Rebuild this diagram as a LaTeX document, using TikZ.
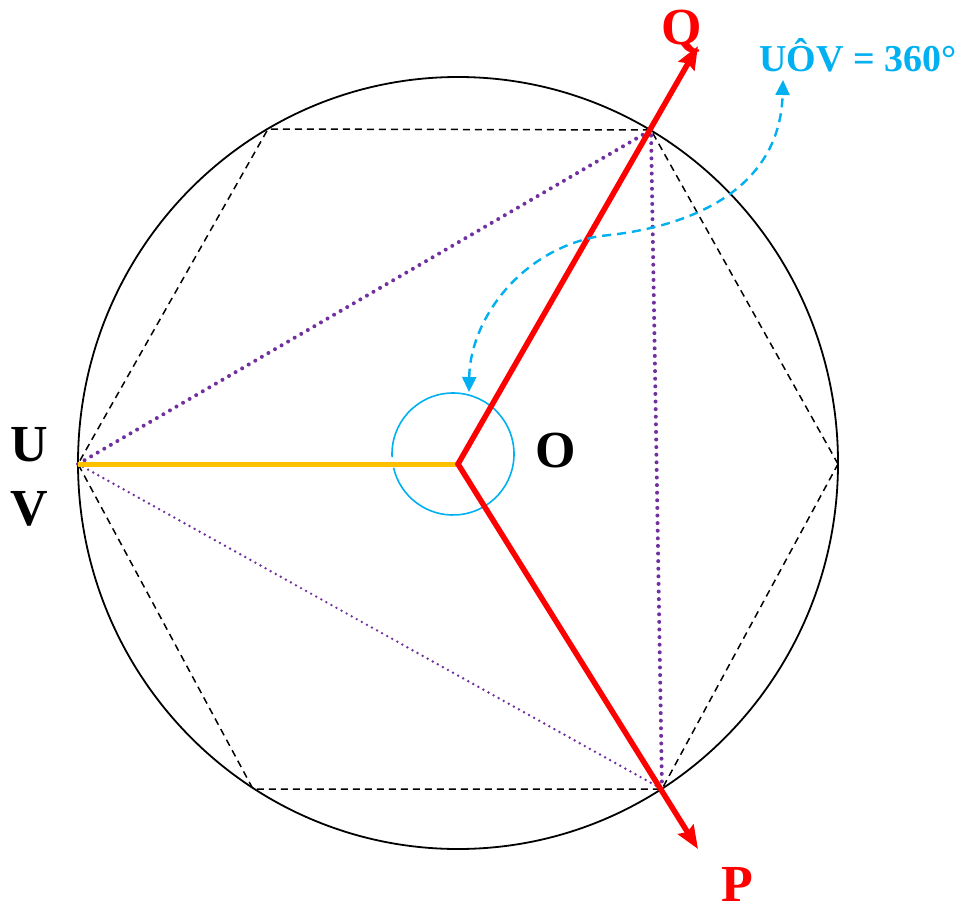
\documentclass[tikz,border=0pt]{standalone}
\usepackage{fontspec}
\setmainfont{Liberation Serif}
\usetikzlibrary{arrows.meta}
\definecolor{ang-red}{HTML}{FF0000}
\definecolor{ang-blue}{HTML}{00B0F0}
\definecolor{ang-gold}{HTML}{FFC000}
\definecolor{ang-purple}{HTML}{7030A0}

\begin{document}
\begin{tikzpicture}[x=1pt, y=-1pt,
    lbl/.style={anchor=base, inner sep=0pt, font=\bfseries\fontsize{52}{52}\selectfont},
    hexedge/.style={black, line width=1.5pt, dash pattern=on 7pt off 5pt},
    chord/.style={ang-purple, line cap=round, line width=4pt, dash pattern=on 0pt off 7.6pt},
    thinchord/.style={ang-purple, line cap=round, line width=2.7pt, dash pattern=on 0pt off 5.8pt}]
    \useasboundingbox (0,0) rectangle (957,909);
    % centre, hexagon corners and arrow ends
    \coordinate (O) at (458,464);
    \coordinate (h0) at (838,464);
    \coordinate (h1) at (651,130);
    \coordinate (h2) at (268,129);
    \coordinate (h3) at (78,464);
    \coordinate (h4) at (253,789);
    \coordinate (h5) at (662,789);
    \coordinate (tipQ) at (698,46);
    \coordinate (tipP) at (698,849);
    \coordinate (mark) at (453,454);
    \coordinate (bend0) at (469,392);
    \coordinate (bend1) at (600,236);
    \coordinate (bend2) at (783,80);

    \draw[line width=1.8pt] (458,463) ellipse [x radius=380, y radius=386];
    \draw[hexedge] (h0) -- (h1) -- (h2) -- (h3) -- (h4) -- (h5) -- cycle;

    % chords from U
    \draw[chord] (h3) -- (h1) -- (h5);
    \draw[thinchord] (h3) -- (h5);

    \draw[ang-gold, line width=5pt] (h3) -- (O);
    \draw[ang-blue, line width=1.6pt] (mark) ++(177:61) arc[start angle=177, end angle=527, radius=61];
    \draw[ang-red, line width=5.5pt, miter limit=20, {Stealth[length=23pt,width=18pt,inset=3pt]}-{Stealth[length=23pt,width=18pt,inset=3pt]}]
        (tipQ) -- (O) -- (tipP);

    \draw[ang-blue, line width=2.4pt, dash pattern=on 9pt off 6pt, {Triangle[length=15pt,width=14pt]}-{Triangle[length=15pt,width=14pt]}]
        (bend0) .. controls (470,320) and (520,250) .. (bend1)
        .. controls (690,228) and (780,190) .. (bend2);

    % labels
    \node[lbl, text=ang-red] (lQ) at (682,45) {Q};
    \node[lbl, text=ang-red] (lP) at (737,901) {P};
    \node[lbl] (lO) at (556,467) {O};
    \node[lbl] (lU) at (29,461) {U};
    \node[lbl] (lV) at (29,525) {V};
    \node[anchor=base, inner sep=0pt, text=ang-blue, font=\bfseries\fontsize{38}{38}\selectfont] (lAng) at (858,72) {UÔV = 360°};
\end{tikzpicture}
\end{document}
